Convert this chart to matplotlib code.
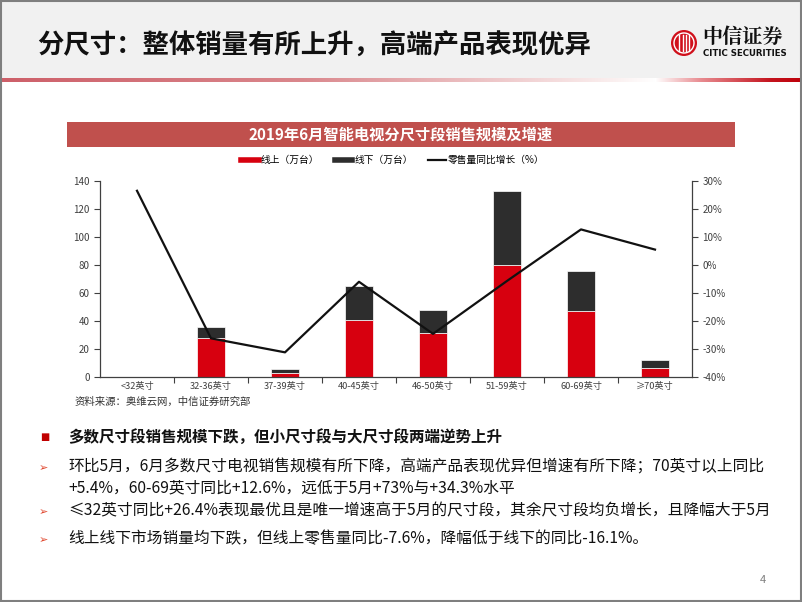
import matplotlib
matplotlib.use("Agg")
import matplotlib.pyplot as plt
import numpy as np
from matplotlib.lines import Line2D
from matplotlib.patches import Circle, Rectangle

plt.rcParams["font.family"] = ["Noto Sans CJK SC", "DejaVu Sans"]

W, H = 802, 602

categories = ["<32英寸", "32-36英寸", "37-39英寸", "40-45英寸",
              "46-50英寸", "51-59英寸", "60-69英寸", "≥70英寸"]
online = [0, 27.4, 2.8, 40.7, 31.0, 79.8, 47.1, 6.0]
offline = [0, 8.3, 2.9, 23.9, 16.6, 52.8, 28.6, 5.9]
growth = [26.4, -26.3, -31.3, -6.1, -24.7, -5.8, 12.6, 5.4]

left_ticks = [0, 20, 40, 60, 80, 100, 120, 140]
right_ticks = [-40, -30, -20, -10, 0, 10, 20, 30]

RED = "#d7000f"
DARK = "#2d2d2d"
TXT = "#404040"

fig = plt.figure(figsize=(W / 100, H / 100), dpi=100)

# slide decoration layer in pixel coordinates
deco = fig.add_axes([0, 0, 1, 1], zorder=0)
deco.set_xlim(0, W)
deco.set_ylim(H, 0)
deco.axis("off")
deco.add_patch(Rectangle((0, 0), W, 79, facecolor="#f1f1f1", edgecolor="none"))

# red rule under the header, fading in the middle
xs = np.arange(W)
stops_x = [0, 300, 610, 655, 700, 770, W]
stops_c = np.array([[205, 95, 105], [218, 135, 140], [250, 238, 238],
                    [255, 255, 255], [232, 140, 145], [196, 20, 30], [190, 0, 10]])
grad = np.stack([np.interp(xs, stops_x, stops_c[:, i]) for i in range(3)], axis=-1) / 255
deco.imshow(grad[None, :, :], extent=(0, W, 82, 78), aspect="auto", zorder=1)
deco.set_xlim(0, W)
deco.set_ylim(H, 0)

deco.text(37, 46, "分尺寸：整体销量有所上升，高端产品表现优异", fontsize=19,
          fontweight="bold", color="#111111", va="center", ha="left")

# logo
deco.add_patch(Circle((684, 43), 13, facecolor="#d0101b", edgecolor="none", zorder=2))
deco.add_patch(Circle((684, 43), 10, facecolor="none", edgecolor="white", lw=1.0, zorder=3))
for dx in (-5, -1.5, 1.5, 5):
    deco.plot([684 + dx, 684 + dx], [35, 51], color="white", lw=1.0, zorder=3)
deco.text(702, 37, "中信证券", fontsize=14.5, fontweight="bold", color="#111111",
          va="center", ha="left", family=["Noto Serif CJK SC", "Noto Sans CJK SC"])
deco.text(703, 53, "CITIC SECURITIES", fontsize=6.2, fontweight="bold",
          color="#111111", va="center", ha="left", family="Liberation Sans Narrow")

# chart title bar
deco.add_patch(Rectangle((67, 122), 668, 25, facecolor="#c0504d", edgecolor="none"))
deco.text(401, 134.5, "2019年6月智能电视分尺寸段销售规模及增速", fontsize=11,
          fontweight="bold", color="white", va="center", ha="center")

deco.text(75, 402, "资料来源：奥维云网，中信证券研究部", fontsize=7.5,
          color="#333333", va="center", ha="left")

# bullet text
deco.text(40, 437, "■", fontsize=7, color="#c00000", va="center", ha="left",
          family=["DejaVu Sans"])
deco.text(68, 437, "多数尺寸段销售规模下跌，但小尺寸段与大尺寸段两端逆势上升",
          fontsize=11.2, fontweight="bold", color="#111111", va="center", ha="left")
bullets = [
    (467, "环比5月，6月多数尺寸电视销售规模有所下降，高端产品表现优异但增速有所下降；70英寸以上同比", True),
    (488, "+5.4%，60-69英寸同比+12.6%，远低于5月+73%与+34.3%水平", False),
    (511, "≤32英寸同比+26.4%表现最优且是唯一增速高于5月的尺寸段，其余尺寸段均负增长，且降幅大于5月", True),
    (539, "线上线下市场销量均下跌，但线上零售量同比-7.6%，降幅低于线下的同比-16.1%。", True),
]
for y, line, arrow in bullets:
    if arrow:
        deco.text(39, y + 1, "➢", fontsize=8, color="#e0452c", va="center",
                  ha="left", family=["DejaVu Sans"])
    deco.text(68, y, line, fontsize=11.3, color="#111111", va="center", ha="left")

deco.text(763, 580, "4", fontsize=8, color="#808080", va="center", ha="center")
deco.add_patch(Rectangle((0.8, 0.8), W - 1.6, H - 1.6, facecolor="none",
                         edgecolor="#7f7f7f", lw=1.5, zorder=5))

# chart
ax = fig.add_axes([100 / W, 1 - 376.7 / H, 592 / W, 196 / H], zorder=2)
ax.patch.set_alpha(0)
x = np.arange(len(categories))
ax.bar(x, online, width=0.39, color=RED, edgecolor="white", linewidth=0.5, zorder=2)
ax.bar(x, offline, width=0.39, bottom=online, color=DARK, edgecolor="white",
       linewidth=0.5, zorder=2)
ax.set_xlim(-0.5, len(categories) - 0.5)
ax.set_ylim(0, 140)
ax.set_yticks(left_ticks)
ax.set_xticks(x)
ax.set_xticklabels(categories)
ax.set_xticks(np.arange(0.5, len(categories) - 1, 1.0), minor=True)
ax.tick_params(axis="x", which="major", length=0, pad=4, labelsize=6.6, labelcolor=TXT)
ax.tick_params(axis="x", which="minor", length=4, direction="out", color=TXT, width=0.8)
ax.tick_params(axis="y", length=4, direction="out", labelsize=7, labelcolor=TXT,
               color=TXT, width=0.8)
ax.spines["top"].set_visible(False)
ax.spines["right"].set_visible(False)
for s in ("left", "bottom"):
    ax.spines[s].set_color(TXT)
    ax.spines[s].set_linewidth(0.9)

ax2 = ax.twinx()
ax2.plot(x, growth, color="#111111", lw=1.6, zorder=3)
ax2.set_ylim(-40, 30)
ax2.set_yticks(right_ticks)
ax2.set_yticklabels([f"{t}%" for t in right_ticks])
ax2.tick_params(axis="y", length=4, direction="out", labelsize=7, labelcolor=TXT,
                color=TXT, width=0.8)
for s in ("top", "left", "bottom"):
    ax2.spines[s].set_visible(False)
ax2.spines["right"].set_color(TXT)
ax2.spines["right"].set_linewidth(0.9)

handles = [
    Line2D([], [], color=RED, lw=4),
    Line2D([], [], color=DARK, lw=4),
    Line2D([], [], color="#111111", lw=1.6),
]
fig.legend(handles, ["线上（万台）", "线下（万台）", "零售量同比增长（%）"],
           loc="center", bbox_to_anchor=(393 / W, 1 - 160 / H), ncol=3,
           frameon=False, fontsize=7, handlelength=1.8, handletextpad=0.2,
           columnspacing=1.6)

fig.savefig("out.png", dpi=100)
